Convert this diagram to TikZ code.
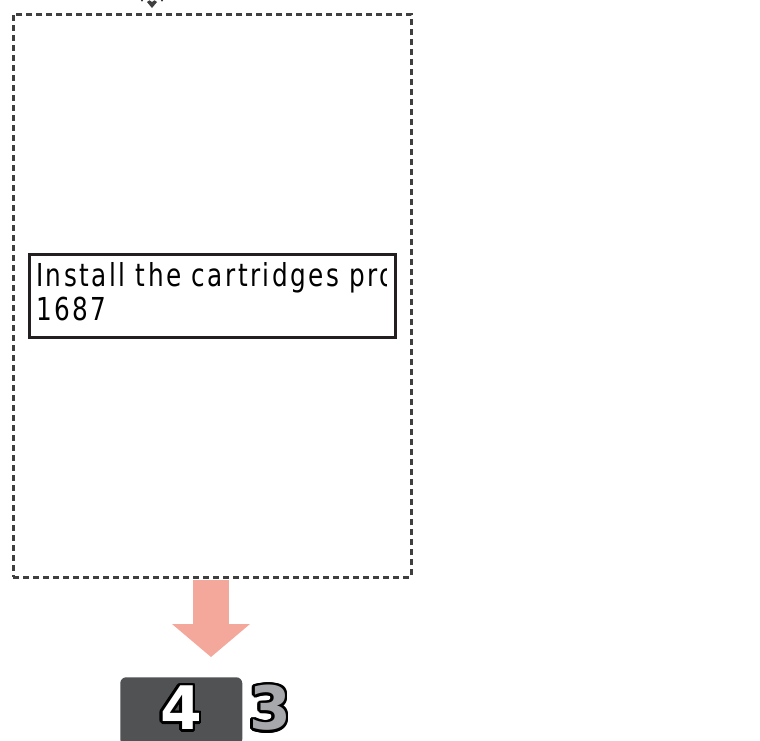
\documentclass[tikz,border=0pt]{standalone}
\usepackage{fontspec}
\usetikzlibrary{arrows.meta}
\newfontfamily\lcdfont[LetterSpace=9]{DejaVu Sans Condensed}
\newfontfamily\digitfont{DejaVu Sans Bold}
\definecolor{framegrey}{HTML}{3F3F3F}
\definecolor{msgblack}{HTML}{231F20}
\definecolor{arrowpink}{HTML}{F4A89B}
\definecolor{tabgrey}{HTML}{505254}
\definecolor{digitgrey}{HTML}{A6A8AB}
\tikzset{
  screen/.style={draw=framegrey, line width=1.9pt, dash pattern=on 4.5pt off 3pt,
    inner sep=0pt, anchor=north west},
  msgbox/.style={draw=msgblack, line width=2.2pt, inner sep=0pt, anchor=north west},
  msgline/.style={anchor=base west, inner sep=0pt,
    font=\lcdfont\fontsize{23.7pt}{25.5pt}\selectfont},
  bigarrow/.style={arrowpink, line width=27pt,
    -{Triangle[length=24.75pt,width=58.5pt,line width=0pt]}},
  tab/.style={fill=tabgrey, rounded corners=4.5pt, inner sep=0pt, anchor=north west},
  digit/.style={font=\digitfont\fontsize{45pt}{45pt}\selectfont, inner sep=0pt}
}
\begin{document}
\begin{tikzpicture}[x=0.75pt,y=-0.75pt]
\useasboundingbox (0,0) rectangle (760,740);
% dashed screen frame
\node[screen, minimum width=298.5pt, minimum height=422.25pt] (screen) at (12,13) {};
\fill[framegrey] (147,2) -- (149.5,0.3) -- (152,2) -- (154.5,0.3) -- (157,2) -- (152,8) -- cycle;
\fill[framegrey] (142,0.5) circle (1.2);
\fill[framegrey] (162,0.5) circle (1.2);
% message on the screen
\node[msgbox, minimum width=274.5pt, minimum height=62.25pt] (msg) at (28,253) {};
\begin{scope}
\clip (30,255) rectangle (386,334);
\node[msgline] (line1) at (36,286) {\scalebox{0.87}[1]{Install the cartridges pro}};
\node[msgline] (line2) at (36,320) {\scalebox{0.87}[1]{1687}};
\end{scope}
% step tab
\node[tab, minimum width=91.5pt, minimum height=51pt] (tab4) at (120,677) {};
\coordinate (tip) at (211,657);
\draw[bigarrow] ([yshift=-1.4pt]screen.south -| tip) -- (tip);
% outlined digits
\foreach \a in {0,22.5,...,337.5} {
  \node[digit, text=black] at ([shift={(\a:2pt)}]181,708) {4};
  \node[digit, text=black] at ([shift={(\a:2pt)}]270,708) {3};
}
\node[digit, text=white] (four) at (181,708) {4};
\node[digit, text=digitgrey] (three) at (270,708) {3};
\end{tikzpicture}
\end{document}
